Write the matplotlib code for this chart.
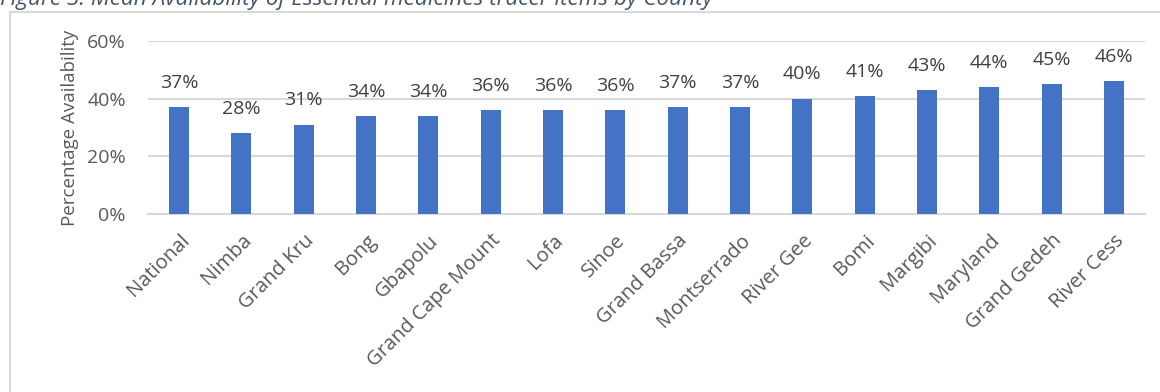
import matplotlib.pyplot as plt
from matplotlib.patches import Rectangle
from matplotlib.ticker import FuncFormatter

counties = ["National", "Nimba", "Grand Kru", "Bong", "Gbapolu", "Grand Cape Mount",
            "Lofa", "Sinoe", "Grand Bassa", "Montserrado", "River Gee", "Bomi",
            "Margibi", "Maryland", "Grand Gedeh", "River Cess"]
availability = [37, 28, 31, 34, 34, 36, 36, 36, 37, 37, 40, 41, 43, 44, 45, 46]

plt.rcParams['font.family'] = ['Open Sans', 'DejaVu Sans']
grey = '#595959'

fig = plt.figure(figsize=(11.6, 3.92), dpi=100)
W, H = 1160, 392

# chart frame (runs off the right and bottom edges)
fig.patches.append(Rectangle((10 / W, -0.2), 1.2, 1.2 - 12 / H,
                             transform=fig.transFigure, fill=False,
                             edgecolor='#D9D9D9', linewidth=1.5))

fig.text(0, 1 - 5 / H, "Figure 3: Mean Availability of Essential medicines tracer items by County",
         fontsize=16.2, style='italic', color='#44546A', va='baseline', ha='left')

ax = fig.add_axes([148 / W, 1 - 214 / H, (1145 - 148) / W, (214 - 41) / H])
x = range(len(counties))
ax.bar(x, availability, width=0.32, color='#4472C4', zorder=3)

for i, v in enumerate(availability):
    ax.annotate(f"{v}%", (i, v), xytext=(0, 11), textcoords='offset points',
                ha='center', va='bottom', fontsize=14, color='#404040')

ax.set_xlim(-0.5, len(counties) - 0.5)
ax.set_ylim(0, 60)
ax.set_yticks([0, 20, 40, 60])
ax.yaxis.set_major_formatter(FuncFormatter(lambda v, p: f"{int(v)}%"))
ax.grid(axis='y', color='#D9D9D9', linewidth=1.5, zorder=0)
for s in ['top', 'right', 'left']:
    ax.spines[s].set_visible(False)
ax.spines['bottom'].set_color('#D9D9D9')
ax.spines['bottom'].set_linewidth(1.5)
ax.tick_params(axis='y', length=0, colors=grey, labelsize=14, pad=16)
ax.set_xticks(list(x))
ax.set_xticklabels(counties, rotation=45, ha='right', rotation_mode='anchor')
ax.tick_params(axis='x', length=0, colors=grey, labelsize=14.5, pad=12)
ax.set_ylabel("Percentage Availability", fontsize=13.5, color=grey, labelpad=6)

fig.savefig("out.png", dpi=100)
